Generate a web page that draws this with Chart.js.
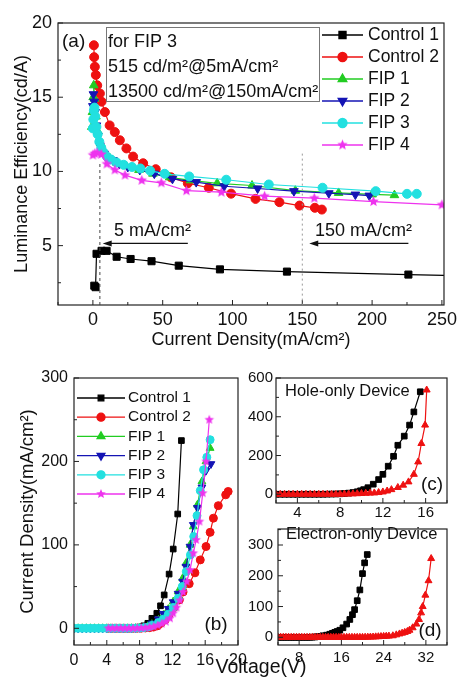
<!DOCTYPE html>
<html>
<head>
<meta charset="utf-8">
<script src="https://cdn.jsdelivr.net/npm/chart.js@4.4.1/dist/chart.umd.min.js"></script>
<style>
  html, body { margin: 0; padding: 0; background: #fff; }
  #fig { position: relative; width: 461px; height: 688px; overflow: hidden; background: #fff; }
  canvas { position: absolute; }
</style>
</head>
<body>
<div id="fig">
  <canvas id="chartA" width="461" height="356" style="left:0;top:0"></canvas>
  <canvas id="chartB" width="320" height="348" style="left:0;top:340px"></canvas>
  <canvas id="chartC" width="216" height="180" style="left:245px;top:350px"></canvas>
  <canvas id="chartD" width="216" height="173" style="left:245px;top:515px"></canvas>
</div>
<script>
// ===================
// (a) luminance efficiency vs current density
// ===================
const labels = ["Control 1", "Control 2", "FIP 1", "FIP 2", "FIP 3", "FIP 4"];

const curA_c1 = [1.0, 1.9, 2.6, 6.2, 9.8, 17, 27, 42, 61.5, 91, 139, 226, 275];
const effA_c1 = [2.3, 2.2, 4.45, 4.65, 4.65, 4.25, 4.1, 3.95, 3.65, 3.4, 3.25, 3.05, 2.95];

const curA_c2 = [0.7, 0.9, 1.4, 2.1, 3.1, 5, 6.2, 8.6, 12, 15.7, 19.3, 24, 28.8, 36, 45, 56, 68, 83, 99, 116.5, 133.6, 148, 159, 164];
const effA_c2 = [18.5, 17.7, 17.05, 16.5, 15.8, 15.25, 14.7, 14.0, 13.1, 12.65, 12.1, 11.55, 11.0, 10.55, 10.15, 9.6, 9.2, 8.9, 8.5, 8.15, 7.93, 7.7, 7.55, 7.43];

const curA_f1 = [-0.8, -0.3, 0.2, 0.6, 1.2, 2.2, 3.5, 5.5, 8.5, 12, 17, 24, 33, 43, 55, 70, 89, 114, 145, 176, 200, 216];
const effA_f1 = [13.0, 14.0, 15.0, 15.8, 14.9, 13.7, 12.7, 11.9, 11.3, 10.9, 10.6, 10.35, 10.1, 9.85, 9.6, 9.4, 9.2, 9.05, 8.7, 8.55, 8.45, 8.4];

const curA_f2 = [0, 0.4, 0.9, 1.6, 2.5, 3.5, 5, 8, 11, 14.5, 19, 25, 33.6, 44, 57, 74, 94, 118, 144, 169, 188, 198];
const effA_f2 = [14.4, 15.2, 14.7, 14.0, 13.1, 12.4, 11.75, 11.2, 10.9, 10.75, 10.5, 10.3, 10.1, 9.85, 9.5, 9.28, 9.0, 8.85, 8.67, 8.53, 8.44, 8.37];

const curA_f3 = [0, 0.3, 0.7, 1.1, 1.7, 2.5, 3.4, 4.6, 6, 7.5, 10, 13, 17, 22, 28, 34, 41, 51.4, 69, 95.5, 126, 164.5, 202.6, 225, 232];
const effA_f3 = [12.9, 13.5, 14.1, 14.3, 13.7, 13.0, 12.5, 12.0, 11.6, 11.3, 11.0, 10.8, 10.6, 10.45, 10.3, 10.2, 10.05, 9.84, 9.66, 9.44, 9.12, 8.9, 8.67, 8.49, 8.49];

const curA_f4 = [0, 1.4, 3, 6, 10, 15.7, 23, 35, 49, 67, 92, 123, 158.6, 201, 250];
const effA_f4 = [11.1, 11.2, 11.25, 11.15, 10.5, 10.1, 9.75, 9.4, 9.23, 8.7, 8.6, 8.33, 8.2, 7.97, 7.75];

// ===================
// (b) J-V of the devices
// ===================
const vB_c1 = [0, 0.5, 1, 1.5, 2, 2.5, 3, 3.5, 4, 4.5, 5, 5.5, 6, 6.5, 7, 7.5, 8, 8.5, 9.0, 9.5, 10.1, 10.55, 11.0, 11.6, 12.1, 12.65, 13.1];
const jB_c1 = [0, 0, 0, 0, 0, 0, 0, 0, 0, 0, 0, 0, 0.1, 0.2, 0.4, 0.8, 1.5, 3, 6, 12, 18, 27, 40, 65, 95, 137, 225];

const vB_c2 = [4.2, 4.7, 5.2, 5.7, 6.2, 6.7, 7.2, 7.7, 8.2, 8.7, 9.2, 9.7, 10.2, 10.6, 11.1, 11.6, 12.2, 12.85, 13.3, 14.05, 14.75, 15.4, 16.1, 16.6, 17.0, 17.6, 18.5, 18.8];
const jB_c2 = [0, 0, 0, 0, 0, 0, 0, 0.1, 0.2, 0.4, 0.8, 1.5, 3, 6, 10, 17, 25, 34, 43.5, 53.5, 66.5, 82, 98, 115, 132, 147, 160, 164];

const vB_f1 = [0, 0.5, 1, 1.5, 2, 2.5, 3, 3.5, 4, 4.5, 5, 5.5, 6, 6.5, 7, 7.5, 8, 8.5, 9, 9.5, 10.3, 10.9, 11.5, 12.1, 12.7, 13.25, 13.65, 14.15, 14.55, 15.05, 15.6, 16.1, 16.6];
const jB_f1 = [0, 0, 0, 0, 0, 0, 0, 0, 0, 0, 0, 0, 0, 0, 0.1, 0.2, 0.5, 1, 2.5, 5, 10, 16, 23, 32, 44, 60, 78, 100, 122, 148, 176, 200, 216];

const vB_f2 = [0, 0.5, 1, 1.5, 2, 2.5, 3, 3.5, 4, 4.5, 5, 5.5, 6, 6.5, 7, 7.5, 8, 8.5, 9, 9.5, 10.3, 10.9, 11.5, 12.1, 12.7, 13.25, 13.65, 14.15, 14.55, 15.05, 15.6, 16.1, 16.7];
const jB_f2 = [0, 0, 0, 0, 0, 0, 0, 0, 0, 0, 0, 0, 0, 0, 0.1, 0.3, 0.6, 1.2, 3, 6, 11, 17.5, 23.5, 31.5, 41.6, 56, 74, 98, 124, 144.5, 169, 189, 197];

const vB_f3 = [0, 0.5, 1, 1.5, 2, 2.5, 3, 3.5, 4, 4.5, 5, 5.5, 6, 6.5, 7, 7.5, 8, 8.5, 9, 9.5, 10.3, 10.9, 11.5, 12.1, 12.7, 13.2, 13.7, 14.2, 14.6, 15.0, 15.4, 15.8, 16.2, 16.6];
const jB_f3 = [0, 0, 0, 0, 0, 0, 0, 0, 0, 0, 0, 0, 0, 0, 0, 0.1, 0.3, 0.7, 1.5, 3.5, 7, 11, 17, 25, 36, 50, 68, 88, 110, 135, 165, 190, 205, 226];

const vB_f4 = [4.2, 4.7, 5.2, 5.7, 6.2, 6.7, 7.2, 7.7, 8.2, 8.7, 9.2, 9.7, 10.2, 10.7, 11.2, 11.7, 12.1, 12.5, 12.9, 13.3, 13.75, 14.15, 14.55, 14.9, 15.3, 15.7, 16.1, 16.5];
const jB_f4 = [0, 0, 0, 0, 0, 0, 0, 0.1, 0.3, 0.6, 1.2, 2, 3.5, 5.5, 8, 12, 18, 25, 33.5, 43.5, 56, 70, 90, 106, 128, 162, 200, 250];

// ===================
// (c) hole-only device
// ===================
const vC_blk = [2, 2.4, 2.8, 3.2, 3.6, 4, 4.4, 4.8, 5.2, 5.6, 6, 6.4, 6.8, 7.2, 7.6, 8, 8.4, 8.8, 9.2, 9.6, 9.9, 10.2, 10.6, 11.1, 11.6, 12.0, 12.5, 13.0, 13.4, 14.0, 14.5, 14.9, 15.5];
const jC_blk = [0, 0, 0, 0, 0, 0, 0, 0, 0, 0, 0, 0, 0.5, 1, 1.5, 2.5, 4, 6, 9, 13, 18, 24, 34, 52, 76, 103, 145, 196, 253, 300, 357, 425, 529];

const vC_red = [2, 2.4, 2.8, 3.2, 3.6, 4, 4.4, 4.8, 5.2, 5.6, 6, 6.4, 6.8, 7.2, 7.6, 8, 8.4, 8.8, 9.2, 9.6, 10, 10.4, 10.8, 11.2, 11.6, 12.0, 12.4, 12.8, 13.4, 13.9, 14.4, 14.9, 15.3, 15.6, 15.95, 16.1];
const jC_red = [0, 0, 0, 0, 0, 0, 0, 0, 0, 0, 0, 0, 0, 0, 0, 0.5, 1, 1.5, 2, 3, 4, 5, 6, 7, 9, 12, 17, 24, 35, 47, 64, 103, 167, 262, 357, 538];

// ===================
// (d) electron-only device
// ===================
const vD_blk = [4, 4.5, 5, 5.5, 6, 6.5, 7, 7.5, 8, 8.5, 9, 9.5, 10, 10.5, 11, 11.5, 12, 12.5, 13.2, 13.8, 14.3, 14.75, 15.2, 15.7, 16.3, 17.0, 17.6, 18.1, 18.5, 19.0, 19.5, 20.0, 20.4, 20.9];
const jD_blk = [0, 0, 0, 0, 0, 0, 0, 0, 0, 0, 0, 0, 0, 0.5, 1, 2, 3, 5, 7, 10, 13, 16, 19, 23, 31, 43, 58, 73.5, 90, 119, 154, 207, 242, 269];

const vD_red = [4, 4.5, 5, 5.5, 6, 6.5, 7, 7.5, 8, 8.5, 9, 9.5, 10, 10.5, 11, 11.5, 12, 12.5, 13, 13.5, 14, 14.5, 15, 15.5, 16, 16.5, 17, 17.5, 18, 18.5, 19, 19.5, 20, 20.5, 21, 21.5, 22, 22.5, 23, 23.5, 24, 24.5, 25, 25.75, 26.4, 27.0, 27.5, 28.0, 28.5, 28.9, 29.5, 30.2, 30.7, 31.1, 31.4, 31.9, 32.5, 33.0];
const jD_red = [0, 0, 0, 0, 0, 0, 0, 0, 0, 0, 0, 0, 0, 0, 0, 0, 0, 0, 0, 0, 0, 0, 0, 0, 0, 0, 0, 0, 0, 0, 0, 0, 0, 0.3, 0.5, 0.8, 1, 1.5, 2, 2.5, 3, 3.5, 4, 5, 8, 11, 13.5, 16, 19, 23, 31, 43, 58, 79.5, 100, 137, 184, 256];

// ===================
// helpers
// ===================
const FONT = "'Liberation Sans', Arial, sans-serif";
Chart.defaults.font.family = FONT;
Chart.defaults.color = "#111";

const colors = ["#000000", "#ee1111", "#22cc22", "#1414b4", "#22e0e0", "#ee33ee"];

function starImage(color, r) {
  const c = document.createElement("canvas");
  const s = Math.ceil(r * 2 + 2);
  c.width = s;
  c.height = s;
  const g = c.getContext("2d");
  g.fillStyle = color;
  g.beginPath();
  for (let i = 0; i < 10; i++) {
    const rad = i % 2 === 0 ? r : r * 0.45;
    const ang = -Math.PI / 2 + (i * Math.PI) / 5;
    g.lineTo(s / 2 + rad * Math.cos(ang), s / 2 + rad * Math.sin(ang));
  }
  g.closePath();
  g.fill();
  return c;
}

function series(label, xs, ys, color, style, r, rot, order) {
  return {
    label: label,
    data: xs.map((x, i) => ({ x: x, y: ys[i] })),
    showLine: true,
    borderColor: color,
    backgroundColor: color,
    borderWidth: 1.2,
    pointStyle: style,
    pointRotation: rot || 0,
    pointRadius: r,
    pointHoverRadius: r,
    pointBackgroundColor: color,
    pointBorderColor: color,
    pointBorderWidth: 1,
    order: order || 0,
  };
}

// box + inward ticks
Chart.register({
  id: "frame",
  afterDatasetsDraw(chart, args, opts) {
    const { ctx, chartArea: a } = chart;
    const sx = chart.scales.x, sy = chart.scales.y;
    ctx.save();
    ctx.strokeStyle = "#222";
    ctx.lineWidth = 1.2;
    ctx.strokeRect(a.left, a.top, a.right - a.left, a.bottom - a.top);
    ctx.lineWidth = 1;
    sx.ticks.forEach((t) => {
      const px = sx.getPixelForValue(t.value);
      const len = Math.abs(t.value % opts.xMajor) < 1e-9 ? 5 : 3;
      ctx.beginPath();
      ctx.moveTo(px, a.bottom);
      ctx.lineTo(px, a.bottom - len);
      ctx.stroke();
    });
    sy.ticks.forEach((t) => {
      const py = sy.getPixelForValue(t.value);
      const len = Math.abs(t.value % opts.yMajor) < 1e-9 ? 5 : 3;
      ctx.beginPath();
      ctx.moveTo(a.left, py);
      ctx.lineTo(a.left + len, py);
      ctx.stroke();
    });
    ctx.restore();
  },
});

// legend drawn as line - marker - line
Chart.register({
  id: "lineLegend",
  afterDraw(chart, args, opts) {
    if (!opts.rows) return;
    const ctx = chart.ctx;
    ctx.save();
    chart.data.datasets.forEach((ds, i) => {
      const yy = opts.rows[i];
      ctx.strokeStyle = ds.borderColor;
      ctx.fillStyle = ds.borderColor;
      ctx.lineWidth = 1.3;
      ctx.beginPath();
      ctx.moveTo(opts.x0, yy);
      ctx.lineTo(opts.x1, yy);
      ctx.stroke();
      Chart.helpers.drawPoint(
        ctx,
        { pointStyle: ds.pointStyle, rotation: ds.pointRotation, radius: ds.pointRadius, borderWidth: 1 },
        (opts.x0 + opts.x1) / 2,
        yy
      );
      ctx.fillStyle = "#111";
      ctx.font = opts.font;
      ctx.textAlign = "left";
      ctx.textBaseline = "middle";
      ctx.fillText(ds.label, opts.xt, yy);
    });
    ctx.restore();
  },
});

// free text, boxes, guide lines, arrows
Chart.register({
  id: "notes",
  afterDraw(chart, args, opts) {
    if (!opts.items) return;
    const ctx = chart.ctx;
    const sx = chart.scales.x, sy = chart.scales.y;
    ctx.save();
    opts.items.forEach((it) => {
      ctx.setLineDash([]);
      if (it.kind === "text") {
        ctx.font = it.font;
        ctx.fillStyle = "#111";
        ctx.textAlign = it.align || "left";
        ctx.textBaseline = "middle";
        ctx.fillText(it.text, it.x, it.y);
      } else if (it.kind === "box") {
        ctx.strokeStyle = it.color;
        ctx.lineWidth = 1;
        ctx.strokeRect(it.x + 0.5, it.y + 0.5, it.w, it.h);
      } else if (it.kind === "vline") {
        const px = sx.getPixelForValue(it.at);
        ctx.strokeStyle = it.color;
        ctx.lineWidth = 1;
        ctx.setLineDash(it.dash);
        ctx.beginPath();
        ctx.moveTo(px, sy.getPixelForValue(it.from));
        ctx.lineTo(px, sy.getPixelForValue(it.to));
        ctx.stroke();
      } else if (it.kind === "arrow") {
        const x0 = sx.getPixelForValue(it.from);
        const x1 = sx.getPixelForValue(it.to);
        const py = sy.getPixelForValue(it.at);
        ctx.strokeStyle = "#111";
        ctx.fillStyle = "#111";
        ctx.lineWidth = 1.4;
        ctx.beginPath();
        ctx.moveTo(x0, py);
        ctx.lineTo(x1 + 6, py);
        ctx.stroke();
        ctx.beginPath();
        ctx.moveTo(x1, py);
        ctx.lineTo(x1 + 9, py - 3);
        ctx.lineTo(x1 + 9, py + 3);
        ctx.closePath();
        ctx.fill();
      }
    });
    ctx.restore();
  },
});

function axis(a, tickSize, horizontal) {
  const o = {
    type: "linear",
    min: a.min,
    max: a.max,
    grid: { display: false, drawTicks: false },
    border: { display: false },
    ticks: {
      stepSize: a.step,
      includeBounds: false,
      autoSkip: false,
      maxRotation: 0,
      padding: a.pad,
      color: "#111",
      font: { size: tickSize },
      callback: (v) => (Math.abs(v % a.major) < 1e-9 ? v : ""),
    },
    title: a.title
      ? { display: true, text: a.title, color: "#111", font: { size: a.titleSize }, padding: a.titlePad }
      : { display: false },
  };
  o.afterFit = horizontal ? (s) => { s.height = a.box; } : (s) => { s.width = a.box; };
  return o;
}

function makeChart(id, datasets, c) {
  return new Chart(document.getElementById(id), {
    type: "scatter",
    data: { datasets: datasets },
    options: {
      responsive: false,
      animation: false,
      events: [],
      layout: { padding: c.pad },
      plugins: {
        legend: { display: false },
        tooltip: { enabled: false },
        frame: { xMajor: c.x.major, yMajor: c.y.major },
        lineLegend: c.legend || {},
        notes: { items: c.notes || [] },
      },
      scales: {
        x: axis(c.x, c.tickSize, true),
        y: axis(c.y, c.tickSize, false),
      },
    },
  });
}

// ===================
// (a)
// ===================
makeChart(
  "chartA",
  [
    series(labels[0], curA_c1, effA_c1, colors[0], "rect", 5, 0, 5),
    series(labels[1], curA_c2, effA_c2, colors[1], "circle", 4.5, 0, 4),
    series(labels[2], curA_f1, effA_f1, colors[2], "triangle", 5, 0, 3),
    series(labels[3], curA_f2, effA_f2, colors[3], "triangle", 5, 180, 2),
    series(labels[4], curA_f3, effA_f3, colors[4], "circle", 4.5, 0, 1),
    series(labels[5], curA_f4, effA_f4, colors[5], starImage(colors[5], 5.5), 5, 0, 0),
  ],
  {
    pad: { top: 23, right: 16, left: 0, bottom: 0 },
    tickSize: 18,
    x: { min: -25, max: 251.5, step: 25, major: 50, pad: 4, box: 51, title: "Current Density(mA/cm²)", titleSize: 18, titlePad: { top: 0, bottom: 5 } },
    y: { min: 1, max: 20, step: 2.5, major: 5, pad: 6, box: 58, title: "Luminance Efficiency(cd/A)", titleSize: 18, titlePad: { top: 11, bottom: 0 } },
    legend: { x0: 322, x1: 363, xt: 368, rows: [35, 57, 79, 101, 123, 145], font: "17.5px " + FONT },
    notes: [
      { kind: "vline", at: 5, from: 10.5, to: 1, dash: [3, 3], color: "#444" },
      { kind: "vline", at: 150, from: 11.2, to: 1, dash: [2, 3], color: "#999" },
      { kind: "box", x: 106, y: 27, w: 213, h: 74, color: "#777" },
      { kind: "text", text: "for FIP 3", x: 108, y: 42, font: "18px " + FONT },
      { kind: "text", text: "515 cd/m²@5mA/cm²", x: 108, y: 67, font: "18px " + FONT },
      { kind: "text", text: "13500 cd/m²@150mA/cm²", x: 108, y: 92, font: "18px " + FONT },
      { kind: "text", text: "(a)", x: 62, y: 42, font: "19px " + FONT },
      { kind: "text", text: "5 mA/cm²", x: 114, y: 231, font: "18px " + FONT },
      { kind: "text", text: "150 mA/cm²", x: 315, y: 231, font: "18px " + FONT },
      { kind: "arrow", from: 68, to: 7, at: 5.15 },
      { kind: "arrow", from: 226, to: 155, at: 5.15 },
    ],
  }
);

// ===================
// (b)
// ===================
makeChart(
  "chartB",
  [
    series(labels[0], vB_c1, jB_c1, colors[0], "rect", 4, 0, 5),
    series(labels[1], vB_c2, jB_c2, colors[1], "circle", 4, 0, 4),
    series(labels[2], vB_f1, jB_f1, colors[2], "triangle", 4.5, 0, 3),
    series(labels[3], vB_f2, jB_f2, colors[3], "triangle", 4.5, 180, 2),
    series(labels[4], vB_f3, jB_f3, colors[4], "circle", 4, 0, 1),
    series(labels[5], vB_f4, jB_f4, colors[5], starImage(colors[5], 5), 4, 0, 0),
  ],
  {
    pad: { top: 38, right: 82, left: 0, bottom: 0 },
    tickSize: 16,
    x: { min: 0, max: 20, step: 2, major: 4, pad: 6, box: 43 },
    y: { min: -20, max: 300, step: 50, major: 100, pad: 6, box: 74, title: "Current Density(mA/cm²)", titleSize: 18.5, titlePad: { top: 17, bottom: 0 } },
    legend: { x0: 77, x1: 125, xt: 128, rows: [58, 77.2, 96.4, 115.6, 134.8, 154], font: "15.5px " + FONT },
    notes: [
      { kind: "text", text: "(b)", x: 216, y: 285, align: "center", font: "19px " + FONT },
      { kind: "text", text: "Voltage(V)", x: 261, y: 328, align: "center", font: "19.5px " + FONT },
    ],
  }
);

// ===================
// (c)
// ===================
makeChart(
  "chartC",
  [
    series("Control 1", vC_blk, jC_blk, colors[0], "rect", 4, 0, 1),
    series("Control 2", vC_red, jC_red, colors[1], "triangle", 4, 0, 0),
  ],
  {
    pad: { top: 28, right: 14, left: 0, bottom: 0 },
    tickSize: 15,
    x: { min: 2, max: 18, step: 2, major: 4, pad: 1, box: 27 },
    y: { min: -45, max: 600, step: 100, major: 200, pad: 3, box: 31 },
    notes: [
      { kind: "text", text: "Hole-only Device", x: 40, y: 41, font: "16.5px " + FONT },
      { kind: "text", text: "(c)", x: 187, y: 135, align: "center", font: "19px " + FONT },
    ],
  }
);

// ===================
// (d)
// ===================
makeChart(
  "chartD",
  [
    series("Control 1", vD_blk, jD_blk, colors[0], "rect", 4, 0, 1),
    series("Control 2", vD_red, jD_red, colors[1], "triangle", 4, 0, 0),
  ],
  {
    pad: { top: 7, right: 14, left: 0, bottom: 0 },
    tickSize: 15,
    x: { min: 4, max: 36, step: 4, major: 8, pad: 4, box: 43 },
    y: { min: -25, max: 352, step: 50, major: 100, pad: 5, box: 33 },
    notes: [
      { kind: "text", text: "Electron-only Device", x: 41, y: 19, font: "16.5px " + FONT },
      { kind: "text", text: "(d)", x: 185, y: 116, align: "center", font: "19px " + FONT },
    ],
  }
);
</script>
</body>
</html>
